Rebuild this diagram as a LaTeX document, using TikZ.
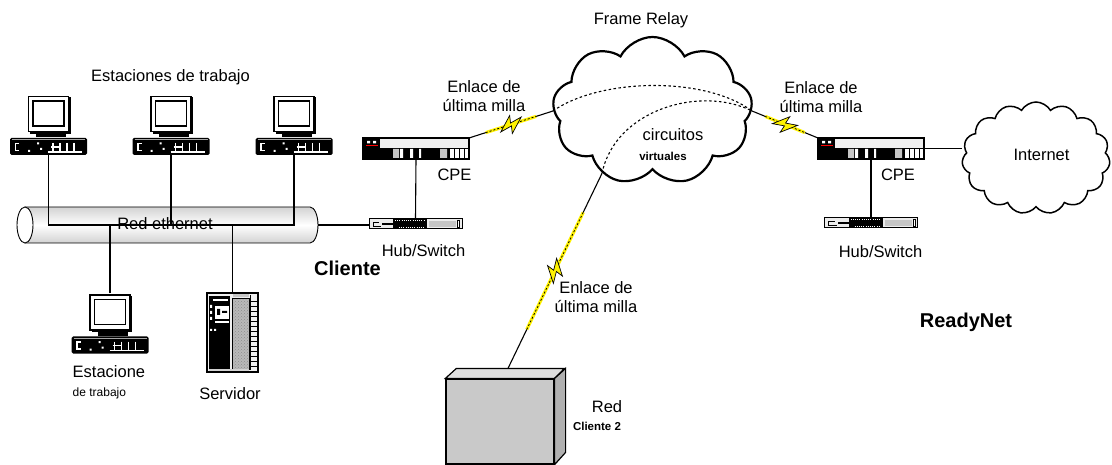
\documentclass[tikz,border=0pt]{standalone}
\usepackage{fontspec}
\setmainfont{Liberation Sans}
\usetikzlibrary{shapes.symbols,calc,patterns}

\tikzset{
  lbl/.style={font=\fontsize{16.5}{18.5}\selectfont, inner sep=0, align=center},
  small/.style={font=\fontsize{12}{14}\selectfont, inner sep=0},
  smallbold/.style={font=\fontsize{11.5}{14}\selectfont\bfseries, inner sep=0},
  big/.style={font=\fontsize{20}{24}\selectfont\bfseries, inner sep=0},
  wire/.style={line width=1.1},
  vc/.style={line width=1.1, dash pattern=on 2.5pt off 2.5pt},
  netcloud/.style={cloud, draw, fill=white, inner sep=0},
  devbox/.style={inner sep=0, outer sep=0},
  % desktop workstation: monitor on a flat case (drawn from the top-left corner)
  workstation/.pic={
    \begin{scope}[shift={(-38.5,-30)}]
      \fill[white] (18,1) rectangle (59,37);
      \draw[line width=1.4] (18.5,1.5) rectangle (58.5,36.5);
      \draw[line width=2.4] (59.5,2.5) -- (59.5,37.5) -- (20,37.5);
      \draw[line width=1.1] (23,6) rectangle (54,31);
      \fill (26,38) rectangle (56,42.5);
      \fill[rounded corners=1.5] (0,43) rectangle (77,60);
      \draw[gray!70, line width=0.8] (2,44.5) -- (75,44.5);
      \draw[white, line width=1.4] (9,48.5) -- (5.5,48.5) -- (5.5,55.5) -- (9,55.5);
      \fill[white] (27,47.5) rectangle (29,49.5) (30,53) rectangle (32,55) (18,55) rectangle (20,57);
      \draw[white, line width=1.2] (43,48) -- (43,56) (41,52) -- (50,52) (50,48) -- (50,57)
        (57,48) -- (57,57) (64,48) -- (64,57) (38,57) -- (72,57);
    \end{scope}
    \node[devbox, minimum width=77, minimum height=60] (-box) at (0,0) {};
  },
  % tower server
  server/.pic={
    \begin{scope}[shift={(-25.5,-39.5)}]
      \fill[gray!12] (0,0) rectangle (51,79);
      \fill (2,3) rectangle (23,76);
      \fill[white] (6,6) rectangle (21,8.5);
      \fill[white] (8,13) rectangle (22,26);
      \fill (10,16) rectangle (13,22) (15,18) rectangle (20,20);
      \fill[white] (3,12) rectangle (5,15) (3,18) rectangle (5,21) (3,24) rectangle (5,27);
      \fill[white] (8,28) rectangle (22,30);
      \fill[white] (3,36) rectangle (5,38) (7,36) rectangle (9,38);
      \fill[gray!55] (25,5) rectangle (42,76);
      \fill[pattern=crosshatch dots, pattern color=black!45] (25,5) rectangle (42,76);
      \draw[line width=0.8] (25,5) rectangle (42,76);
      \fill[gray!45] (26,1) rectangle (42,4);
      \draw[line width=0.8] (43.5,2) -- (43.5,77);
      \foreach \yy in {8,13,...,73} \draw[line width=0.9] (44,\yy) -- (50,\yy);
      \fill[gray!35] (2,76) rectangle (42,79);
    \end{scope}
    \node[devbox, draw, line width=1.2, minimum width=51, minimum height=79] (-box) at (0,0) {};
  },
  % customer premises router
  cperouter/.pic={
    \begin{scope}[shift={(-53,-10.5)}]
      \fill[gray!12] (0,0) rectangle (106,10);
      \fill (0,10) rectangle (106,21);
      \fill (0,0) rectangle (17,10);
      \draw[red, line width=1.4] (3,7.5) -- (15,7.5);
      \fill[white] (4,3) rectangle (7,5.5) (10,3) rectangle (13,5.5);
      \fill[gray!45] (30,11) rectangle (36,21) (77,11) rectangle (84,21);
      \fill[white] (37,11) rectangle (40,21) (47,11) rectangle (50,21) (56,11) rectangle (58,21);
      \fill[white] (87,11) rectangle (105,20);
      \draw (91,11) -- (91,20) (96,11) -- (96,20) (101,11) -- (101,20);
    \end{scope}
    \node[devbox, draw, line width=1.2, minimum width=106, minimum height=21] (-box) at (0,0) {};
  },
  % hub / switch
  hubswitch/.pic={
    \begin{scope}[shift={(-46.5,-5)}]
      \fill[gray!15] (0,0) rectangle (93,10);
      \fill (24,0) rectangle (58,10);
      \draw[white, line width=0.8, dash pattern=on 1pt off 1.2pt] (26,1.5) -- (56,1.5) (30,8.5) -- (56,8.5);
      \draw[line width=0.9] (10,3) -- (4,3) -- (4,7) -- (12,7);
      \fill (13,4) rectangle (24,6);
      \fill[gray!45] (60,2) rectangle (87,8);
      \fill (88,1) rectangle (91,9);
      \draw[white, line width=0.6] (89.5,2) -- (89.5,8);
    \end{scope}
    \node[devbox, draw, line width=1, minimum width=93, minimum height=10] (-box) at (0,0) {};
  },
  % lightning mark on a last-mile link
  bolt/.pic={
    \filldraw[fill=yellow, draw=black, line width=0.7]
      (-12,4) -- (1.5,-9) -- (0,-1.5) -- (12,-4) -- (-1.5,9) -- (0,1.5) -- cycle;
  }
}

% last-mile link between two anchors: black line, yellow band, bolt
\newcommand\lastmile[2]{%
  \draw[wire] (#1) -- (#2);
  \draw[yellow, line width=3.2] ($(#1)!0.2!(#2)$) -- ($(#1)!0.8!(#2)$);
  \draw[line width=0.8, dash pattern=on 2pt off 2pt] ($(#1)!0.2!(#2)$) -- ($(#1)!0.8!(#2)$);
  \path (#1) -- pic[pos=0.5, sloped]{bolt} (#2);
}

\begin{document}
\begin{tikzpicture}[x=1pt, y=-1pt]
\fill[white] (0,0) rectangle (1112,465);
\useasboundingbox (0,0) rectangle (1112,465);

% ---------- Ethernet segment ----------
\node[minimum width=301, minimum height=36, inner sep=0] (eth) at (167.5,225) {};
\shade[top color=gray!35, bottom color=gray!35, middle color=white, draw, line width=0.9]
  (25,207) -- (310,207) arc[start angle=-90, end angle=90, x radius=8, y radius=18] -- (25,243) -- cycle;
\draw[fill=white, line width=0.9] (25,225) ellipse [x radius=8, y radius=18];

% ---------- client workstations and server ----------
\pic (ws1) at (48.5,125) {workstation};
\pic (ws2) at (171,125) {workstation};
\pic (ws3) at (294,125) {workstation};
\pic (ws4) at (110,323.5) {workstation};
\pic (srv) at (232.5,332.5) {server};

\draw[wire] (ws1-box.south) |- (eth.center) -| (ws3-box.south);
\draw[wire] (ws2-box.south) -- (ws2-box.south |- eth.center);
\draw[wire] (ws4-box.north) -- (ws4-box.north |- eth.center);
\draw[wire] (srv-box.north) -- (srv-box.north |- eth.center);

\node[lbl] (ethlbl) at (165,224) {Red ethernet};
\node[lbl] (wslbl) at (170.5,77) {Estaciones de trabajo};
\node[lbl, anchor=west] (ws4lbl) at (72.5,372) {Estacione};
\node[small, anchor=west] (ws4lbl2) at (72.5,393) {de trabajo};
\node[lbl] (srvlbl) at (230,394) {Servidor};
\node[big] (cliente) at (347.5,268) {Cliente};

% ---------- client edge ----------
\pic (cpeL) at (416,148.5) {cperouter};
\pic (hubL) at (415.5,224) {hubswitch};
\draw[wire] (eth.east) -- (eth.east -| hubL-box.west);
\draw[wire] (cpeL-box.south) -- (hubL-box.north);
\node[lbl] (cpeLlbl) at (454.5,174.5) {CPE};
\node[lbl] (hubLlbl) at (423.5,251) {Hub/Switch};

% ---------- Frame Relay network ----------
\node[netcloud, line width=2.2, cloud puffs=9, cloud puff arc=125, aspect=1.35,
  minimum width=200, minimum height=148] (fr) at (652.5,111) {};
\node[lbl] (frlbl) at (641,20) {Frame Relay};
\draw[vc] (fr.west) .. controls (600,78) and (705,76) .. (fr.east);
\draw[vc] (fr.231) .. controls (615,110) and (700,85) .. (fr.east);
\node[lbl] (vclbl) at (673,135) {circuitos};
\node[smallbold] (vclbl2) at (663,156) {virtuales};

% ---------- ReadyNet edge ----------
\pic (cpeR) at (871,148.5) {cperouter};
\pic (hubR) at (871,223) {hubswitch};
\draw[wire] (cpeR-box.south) -- (hubR-box.north);
\node[lbl] (cpeRlbl) at (898,175) {CPE};
\node[lbl] (hubRlbl) at (880.5,251.5) {Hub/Switch};
\node[netcloud, line width=1.5, cloud puffs=15, cloud puff arc=120, aspect=1.32,
  minimum width=148, minimum height=112] (inet) at (1036,158) {};
\node[lbl] (inetlbl) at (1041.5,155) {Internet};
\draw[wire] (cpeR-box.east) -- (cpeR-box.east -| inet.west);
\node[big] (readynet) at (966,322) {ReadyNet};

% ---------- second customer network ----------
\node[draw, line width=1.2, fill=gray!42, minimum width=108, minimum height=85, inner sep=0]
  (red2) at (500,421.5) {};
\filldraw[fill=gray!25, line width=1.2] (red2.north west) -- ++(11,-10) -- ++(108,0)
  -- (red2.north east) -- cycle;
\filldraw[fill=gray!62, line width=1.2] (red2.north east) -- ++(11,-10) -- ++(0,84)
  -- (red2.south east) -- cycle;
\coordinate (red2top) at ($(red2.north)+(8,-10)$);
\node[lbl] (red2lbl) at (607,407) {Red};
\node[smallbold] (red2lbl2) at (597,426) {Cliente 2};

% ---------- last-mile links ----------
\lastmile{cpeL-box.north east}{fr.west}
\lastmile{fr.east}{cpeR-box.north west}
\lastmile{fr.231}{red2top}
\node[lbl] (lmL) at (484,96) {Enlace de\\última milla};
\node[lbl] (lmR) at (821,97) {Enlace de\\última milla};
\node[lbl] (lmB) at (596,297) {Enlace de\\última milla};
\end{tikzpicture}
\end{document}
